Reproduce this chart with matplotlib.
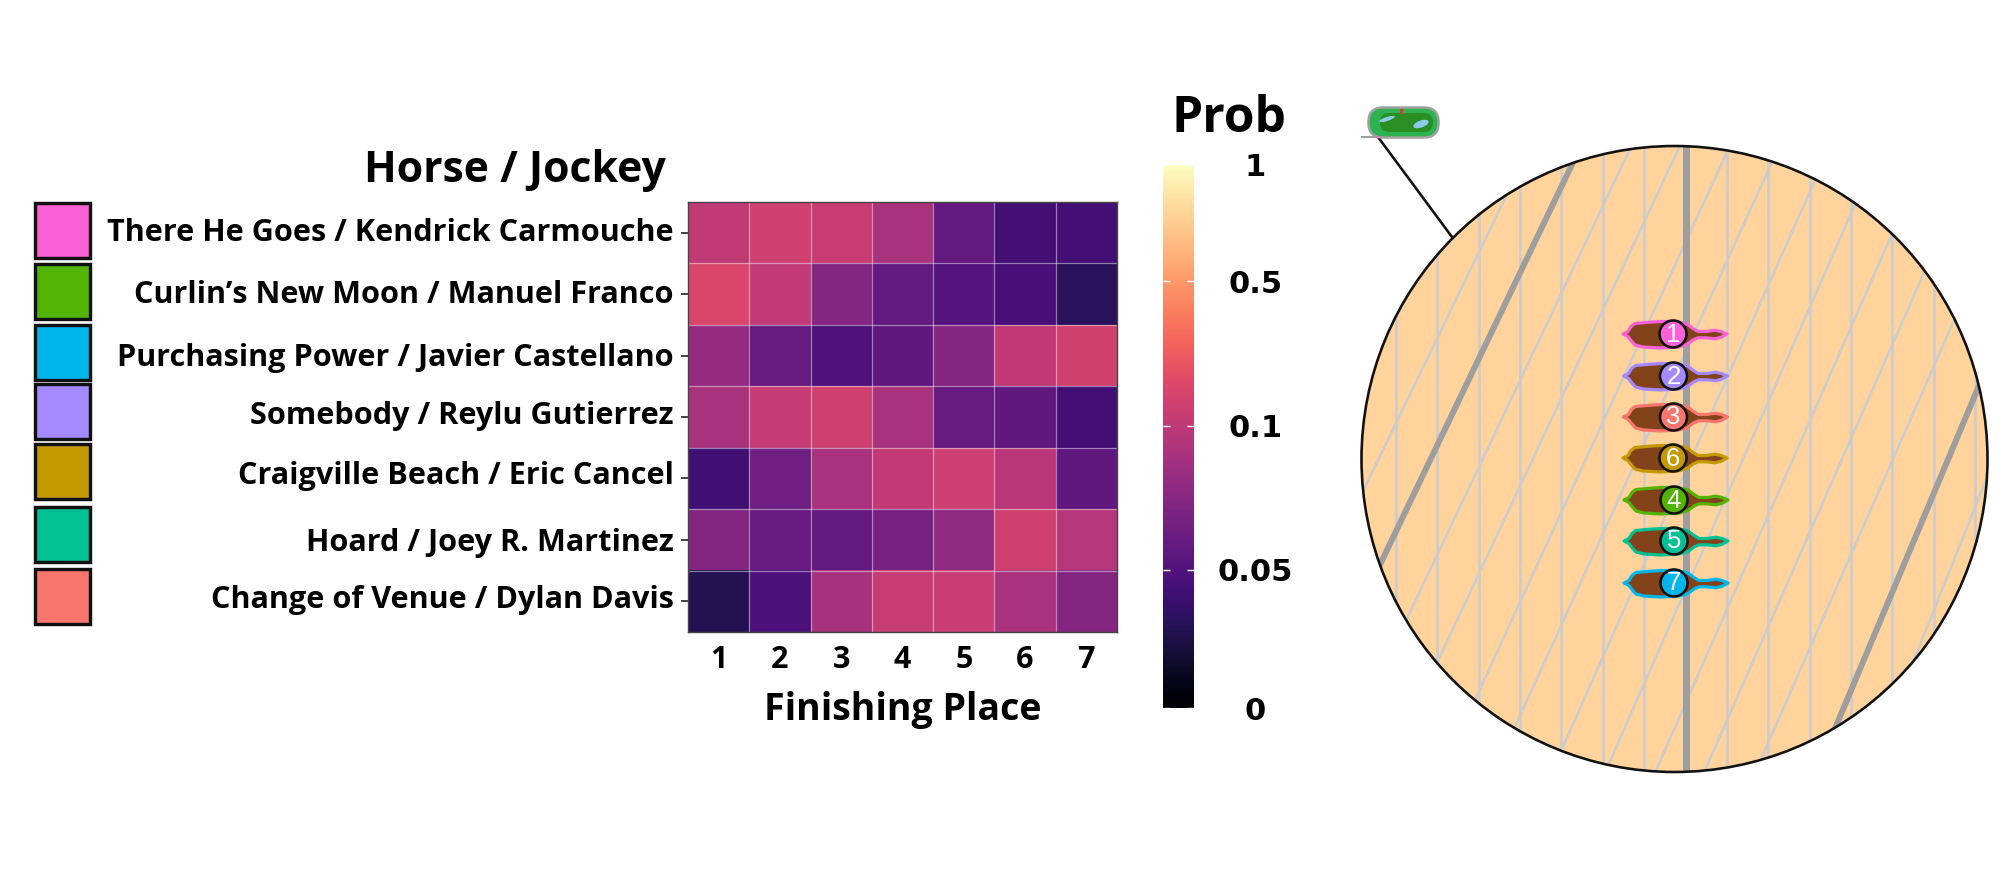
import numpy as np
import matplotlib
matplotlib.use("Agg")
import matplotlib.pyplot as plt
from matplotlib.colors import FuncNorm
from matplotlib.cm import ScalarMappable
from matplotlib.patches import Circle, Polygon, Rectangle, FancyBboxPatch, Ellipse

# heatmap data, rows follow the horse list
horses = ["There He Goes / Kendrick Carmouche", "Curlin\u2019s New Moon / Manuel Franco",
          "Purchasing Power / Javier Castellano", "Somebody / Reylu Gutierrez",
          "Craigville Beach / Eric Cancel", "Hoard / Joey R. Martinez",
          "Change of Venue / Dylan Davis"]
places = [1, 2, 3, 4, 5, 6, 7]
prob = [[.108, .160, .130, .091, .058, .043, .043],
        [.205, .115, .074, .058, .052, .045, .032],
        [.081, .060, .049, .057, .074, .100, .168],
        [.091, .123, .160, .091, .060, .057, .043],
        [.042, .064, .091, .115, .153, .098, .057],
        [.072, .060, .058, .068, .079, .160, .096],
        [.029, .047, .089, .130, .138, .091, .074]]
swatch_colors = ["#FB61D7", "#53B400", "#00B6EB", "#A58AFF", "#C49A00", "#00C094", "#F8766D"]

# colour scale
scale_values = [0, .05, .1, .5, 1]
scale_pos = [0, .2546, .52, .786, 1]
scale_labels = ["0", "0.05", "0.1", "0.5", "1"]

# horses on the track, front view order
track_numbers = [1, 2, 3, 6, 4, 5, 7]
track_colors = ["#FB61D7", "#A58AFF", "#F8766D", "#C49A00", "#53B400", "#00C094", "#00B6EB"]
track_x = [1673, 1673.5, 1673.5, 1673, 1674, 1674, 1674]
track_y = [334, 376, 417, 458, 500, 541, 583]

W, H = 2000, 875
BOLD = ["Open Sans", "DejaVu Sans"]
WIDE = ["DejaVu Sans"]


def px(v):
    return v * 0.72


def add_axes_px(fig, x0, y0, x1, y1):
    return fig.add_axes([x0 / W, 1 - y1 / H, (x1 - x0) / W, (y1 - y0) / H])


norm = FuncNorm((lambda v: np.interp(v, scale_values, scale_pos),
                 lambda t: np.interp(t, scale_pos, scale_values)), vmin=0, vmax=1)

fig = plt.figure(figsize=(20, 8.75), dpi=100)

# heatmap
ax = add_axes_px(fig, 688, 202, 1117, 632)
ax.imshow(prob, cmap="magma", norm=norm, aspect="auto")
ax.set_xticks(range(7))
ax.set_xticklabels(places, fontsize=22, fontweight="bold", family=BOLD)
ax.set_yticks(range(7))
ax.set_yticklabels([])
ax.set_xticks(np.arange(.5, 6), minor=True)
ax.set_yticks(np.arange(.5, 6), minor=True)
ax.grid(which="minor", color="white", alpha=.45, lw=.9)
ax.tick_params(axis="x", length=0, pad=9)
ax.tick_params(axis="y", length=5, width=1.3, color="#333333")
ax.tick_params(which="minor", length=0)
for s in ax.spines.values():
    s.set_color("#444444")
    s.set_linewidth(1)
ax.set_xlabel("Finishing Place", fontsize=27, fontweight="bold", family=BOLD, labelpad=12)

# colour bar
cax = add_axes_px(fig, 1163, 165, 1194, 708)
cb = fig.colorbar(ScalarMappable(norm=norm, cmap="magma"), cax=cax)
cb.set_ticks(scale_values)
cb.set_ticklabels(scale_labels)
cb.outline.set_visible(False)
cb.minorticks_off()
cax.tick_params(axis="y", direction="in", length=5, width=1, color="white",
                left=True, right=True, labelright=True, pad=44)
for t in cax.get_yticklabels():
    t.set_ha("center")
    t.set_fontsize(22)
    t.set_fontweight("bold")
    t.set_family(WIDE)

# everything else sits on a pixel sized overlay
ov = fig.add_axes([0, 0, 1, 1], facecolor="none")
ov.set_xlim(0, W)
ov.set_ylim(H, 0)
ov.axis("off")

ov.text(515, 171, "Horse / Jockey", fontsize=30.8, fontweight="bold", family=BOLD, ha="center", va="center")
ov.text(1229, 119, "Prob", fontsize=35.8, fontweight="bold", family=BOLD, ha="center", va="center")

label_y = [233, 295, 358, 416, 476, 543, 600]
swatch_top = [203, 264, 325, 384, 444, 507, 569]
for name, y, top, col in zip(horses, label_y, swatch_top, swatch_colors):
    ov.text(674, y, name, fontsize=22.1, fontweight="bold", family=BOLD, ha="right", va="center")
    ov.add_patch(Rectangle((35, top), 55, 55, fc=col, ec="#111111", lw=px(3.4)))

# track close up
cx, cy, r = 1674.5, 459, 313
disc = Circle((cx, cy), r, fc="#FFD39B", ec="none", zorder=1)
ov.add_patch(disc)

rail_x = [1396 + 41.37 * i for i in range(15)]
for i, x in enumerate(rail_x):
    thick = i == 7
    ln, = ov.plot([x, x], [0, H], color="#9E9E9E" if thick else "#CCCCCC",
                  lw=px(7 if thick else 2.6), zorder=3 if thick else 2)
    ln.set_clip_path(disc)

diag_x = [1383, 1435, 1487, 1537, 1590, 1641, 1695, 1747, 1797, 1846, 1897, 1952, 1998]
diag_slope = [.485, .48, .475, .47, .46, .455, .445, .44, .44, .44, .44, .42, .40]
for i, (x, m) in enumerate(zip(diag_x, diag_slope)):
    thick = i in (1, 11)
    ln, = ov.plot([x + m * 450, x - m * 425], [0, H], color="#9E9E9E" if thick else "#CCCCCC",
                  lw=px(6 if thick else 2.6), zorder=3 if thick else 2)
    ln.set_clip_path(disc)
ov.add_patch(Circle((cx, cy), r, fc="none", ec="#111111", lw=px(2.6), zorder=4))

# horse outline, offsets from the saddle number
horse_shape = np.array([(-50, 0), (-45, -2.5), (-42, -7.5), (-38, -10.5), (-27, -11.5), (-13, -12.5),
                        (3, -12.5), (14, -10), (20, -5.5), (25, -2.5), (33, -2.5), (42, -3.8),
                        (48, -2.5), (54, 0), (48, 3.3), (42, 4.8), (33, 3.8), (25, 3.8), (20, 6),
                        (14, 10.5), (5, 13), (-13, 14), (-30, 13), (-38, 11), (-42, 6.5), (-45, 2.5)])
for num, col, x, y in zip(track_numbers, track_colors, track_x, track_y):
    ov.add_patch(Polygon(horse_shape + (x, y), closed=True, fc="#82431A", ec=col, lw=px(3.2),
                         joinstyle="round", zorder=5))
    ov.add_patch(Circle((x, y), 13.5, fc=col, ec="#111111", lw=px(2.6), zorder=6))
    ov.text(x, y + .5, str(num), color="white", fontsize=18.5, family="Liberation Sans",
            ha="center", va="center", zorder=7)

# pointer from the track map
ov.plot([1378, 1452], [137, 237], color="#111111", lw=px(2.6), zorder=1)
ov.plot([1362, 1378], [137, 137], color="#9E9E9E", lw=px(2), zorder=1)

# little track map
ov.add_patch(FancyBboxPatch((1383, 122), 41, 1, boxstyle="round,pad=14.5,rounding_size=14.5",
                            fc="#2DB34F", ec="#A0A0A0", lw=px(2.5), zorder=2))
ov.add_patch(FancyBboxPatch((1389, 122), 35, 1, boxstyle="round,pad=9,rounding_size=9",
                            fc="#2A8E24", ec="none", zorder=3))
ov.add_patch(Ellipse((1387, 119), 16, 4, angle=-18, fc="#8CCBE8", ec="none", zorder=4))
ov.add_patch(Ellipse((1421, 124), 16, 7, angle=-20, fc="#8CCBE8", ec="none", zorder=4))
ov.add_patch(Rectangle((1399.5, 109), 3, 5, fc="#E8302A", ec="none", zorder=5))
ov.add_patch(Circle((1377, 137), 1.5, fc="#FB61D7", ec="none", zorder=5))

fig.savefig("out.png", dpi=100)
